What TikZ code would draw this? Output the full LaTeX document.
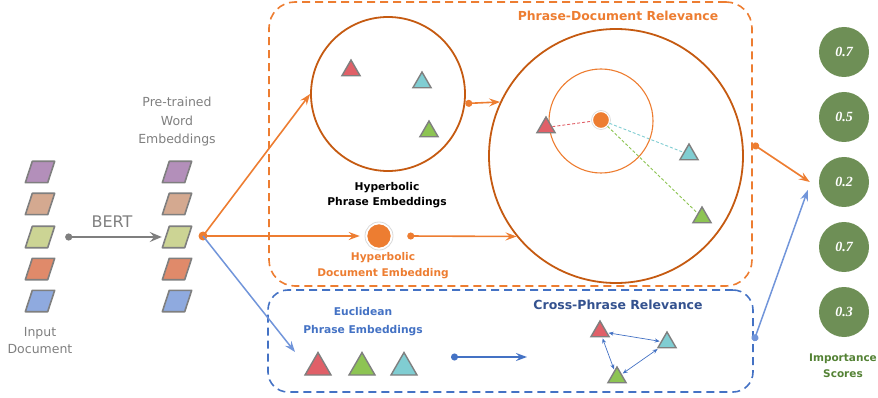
\documentclass[tikz,border=0pt]{standalone}
\usepackage{fontspec}
\setmainfont{DejaVu Sans}
\newfontfamily\numfont{Liberation Serif}
\usetikzlibrary{arrows.meta,shapes.geometric}
\definecolor{corange}{HTML}{ED7D31}
\definecolor{cdark}{HTML}{C55A11}
\definecolor{cblue}{HTML}{4472C4}
\definecolor{cblueL}{HTML}{7195DA}
\definecolor{cblueD}{HTML}{34528F}
\definecolor{cgray}{HTML}{7F7F7F}
\definecolor{cgreen}{HTML}{6E8F56}
\definecolor{cgreenT}{HTML}{548235}
\definecolor{tred}{HTML}{E06068}
\definecolor{tgreen}{HTML}{8DC453}
\definecolor{tcyan}{HTML}{80CDD2}
\definecolor{ppurple}{HTML}{B38FBA}
\definecolor{ptan}{HTML}{D4A990}
\definecolor{polive}{HTML}{CCD494}
\definecolor{porange}{HTML}{E08A6A}
\definecolor{pblue}{HTML}{8FAADF}
\tikzset{
  parabox/.style={inner sep=0, minimum width=22, minimum height=21},
  parashape/.style={draw=cgray, line width=1.6pt, line join=round},
  tri/.style={regular polygon, regular polygon sides=3, minimum size=#1, inner sep=0,
    draw=cgray, line width=1.4pt},
  tip/.style={-{Stealth[length=11pt,width=8pt,inset=4pt]}},
  oarrow/.style={draw=corange, line width=1.6pt, tip},
  barrow/.style={draw=cblueL, line width=1.5pt, tip},
  dotstart/.style={arrows={Circle[length=7pt]-Stealth[length=11pt,width=8pt,inset=4pt]}},
  twohead/.style={arrows={Stealth[length=5pt,width=4pt]-Stealth[length=5pt,width=4pt]}},
  score/.style={circle, fill=cgreen, minimum size=50, inner sep=0, text=white,
    font=\numfont\bfseries\itshape\fontsize{14}{14}\selectfont},
  lbl/.style={align=center, inner sep=0},
  fine/.style={line width=0.9pt, dash pattern=on 3pt off 2pt},
}
\begin{document}
\begin{tikzpicture}[x=1pt,y=-1pt]
\useasboundingbox (0,0) rectangle (878,398);
% boxes
\node[draw=corange, line width=1.6pt, dash pattern=on 8pt off 5pt, rounded corners=26pt,
  minimum width=483, minimum height=284, inner sep=0] (pdr) at (510.5,144) {};
\node[draw=cblue, line width=1.6pt, dash pattern=on 8pt off 5pt, rounded corners=20pt,
  minimum width=485, minimum height=102, inner sep=0] (cpr) at (510.5,341) {};
% input document
\foreach \y/\c [count=\i] in {172/ppurple,204/ptan,237/polive,269/porange,301/pblue}{
  \node[parabox] (i\i) at (40,\y) {};
  \node[parabox] (e\i) at (177,\y) {};
  \filldraw[parashape, fill=\c] ([xshift=-3.5]i\i.south west) -- ([xshift=-3.5]i\i.south east)
    -- ([xshift=3.5]i\i.north east) -- ([xshift=3.5]i\i.north west) -- cycle;
  \filldraw[parashape, fill=\c] ([xshift=-3.5]e\i.south west) -- ([xshift=-3.5]e\i.south east)
    -- ([xshift=3.5]e\i.north east) -- ([xshift=3.5]e\i.north west) -- cycle;
}
\node[lbl, text=cgray, font=\fontsize{12.5}{17}\selectfont] (tin) at (40,341) {Input\\Document};
\node[lbl, text=cgray, font=\fontsize{12.5}{18.5}\selectfont] (tpre) at (177,122) {Pre-trained\\Word\\Embeddings};
\node[lbl, text=cgray, font=\fontsize{16}{16}\selectfont] (tbert) at (112,222) {BERT};
\draw[draw=cgray, line width=2.6pt, arrows={Circle[length=7pt]-Stealth[length=12pt,width=10pt,inset=4.5pt]}]
  ([xshift=14]i3.east) -- ([xshift=-4]e3.west);
% split point
\coordinate (split) at (203,236);
\fill[corange] (split) circle (4.5);
% hyperbolic phrase circle
\node[circle, draw=cdark, line width=1.8pt, minimum size=154, inner sep=0] (hp) at (388,94) {};
\node[tri=21, fill=tred] (hr) at (351,70.5) {};
\node[tri=21, fill=tcyan] (hc) at (422,82.5) {};
\node[tri=21, fill=tgreen] (hg) at (429,131.5) {};
\node[lbl, font=\bfseries\fontsize{10.7}{15}\selectfont] (thp) at (387,195) {Hyperbolic\\Phrase Embeddings};
% document embedding
\node[circle, fill=corange, draw=white, line width=1.5pt, minimum size=25, inner sep=0] (de) at (379,236) {};
\draw[black!15, line width=0.8pt] (de) circle (14);
\node[lbl, text=corange, font=\bfseries\fontsize{10.6}{16}\selectfont] (tde) at (383,266) {Hyperbolic\\Document Embedding};
% big circle
\node[circle, draw=cdark, line width=1.8pt, minimum size=254, inner sep=0] (big) at (616,156) {};
\node[circle, draw=corange, line width=1.1pt, minimum size=104, inner sep=0] (ic) at (601,121) {};
\node[circle, fill=corange, draw=white, line width=1.2pt, minimum size=17, inner sep=0] (dd) at (601,120) {};
\draw[black!15, line width=0.6pt] (dd) circle (9.5);
\node[tri=21, fill=tred] (pr) at (546,127.5) {};
\node[tri=21, fill=tcyan] (pc) at (689,154.5) {};
\node[tri=21, fill=tgreen] (pg) at (702,217.5) {};
\draw[tred, fine] (pr) -- (dd);
\draw[tcyan, fine] (dd) -- (pc);
\draw[tgreen, fine] (dd) -- (pg);
\node[lbl, text=corange, font=\bfseries\fontsize{12.4}{13}\selectfont] (tpdr) at (618,16) {Phrase-Document Relevance};
% arrows in orange region
\draw[oarrow] (split) -- (hp.west);
\draw[oarrow] (split) -- ([xshift=-6]de.west);
\draw[draw=corange, line width=1.6pt, dotstart] (hp.-7) -- (big.155);
\draw[draw=corange, line width=1.6pt, dotstart] ([xshift=15]de.east) -- (big.219);
% euclidean
\coordinate (eu) at (295,352);
\draw[barrow] (split) -- (eu);
\node[lbl, text=cblue, font=\bfseries\fontsize{10.7}{18}\selectfont] (teu) at (363,322) {Euclidean\\Phrase Embeddings};
\node[tri=30, fill=tred] (er) at (318,367.5) {};
\node[tri=30, fill=tgreen] (eg) at (362,367.5) {};
\node[tri=30, fill=tcyan] (ec) at (404,367.5) {};
\coordinate (ba) at (451,357);
\coordinate (bb) at (527,357);
\draw[draw=cblue, line width=1.6pt, dotstart] (ba) -- (bb);
\node[lbl, text=cblueD, font=\bfseries\fontsize{12.5}{13}\selectfont] (tcpr) at (618,305) {Cross-Phrase Relevance};
\node[tri=21, fill=tred] (cr) at (600,331.5) {};
\node[tri=21, fill=tcyan] (cc) at (667,342.5) {};
\node[tri=21, fill=tgreen] (cg) at (617,377.5) {};
\draw[cblue, line width=0.7pt, twohead, shorten <=1pt, shorten >=1pt] (cr) -- (cc);
\draw[cblue, line width=0.7pt, twohead, shorten <=1pt, shorten >=1pt] (cr) -- (cg);
\draw[cblue, line width=0.7pt, twohead, shorten <=1pt, shorten >=1pt] (cg) -- (cc);
% scores
\foreach \y/\v [count=\i] in {52/0.7,117/0.5,182/0.2,247/0.7,312/0.3}{
  \node[score] (s\i) at (844,\y) {\v};
}
\node[lbl, text=cgreenT, font=\bfseries\fontsize{10.5}{16}\selectfont] (tis) at (843,366) {Importance\\Scores};
\draw[draw=corange, line width=1.6pt, dotstart] (pdr.east) -- ([xshift=-9]s3.west);
\draw[draw=cblueL, line width=1.5pt, dotstart] (cpr.east) -- ([xshift=-11,yshift=-8]s3.west);
\end{tikzpicture}
\end{document}
